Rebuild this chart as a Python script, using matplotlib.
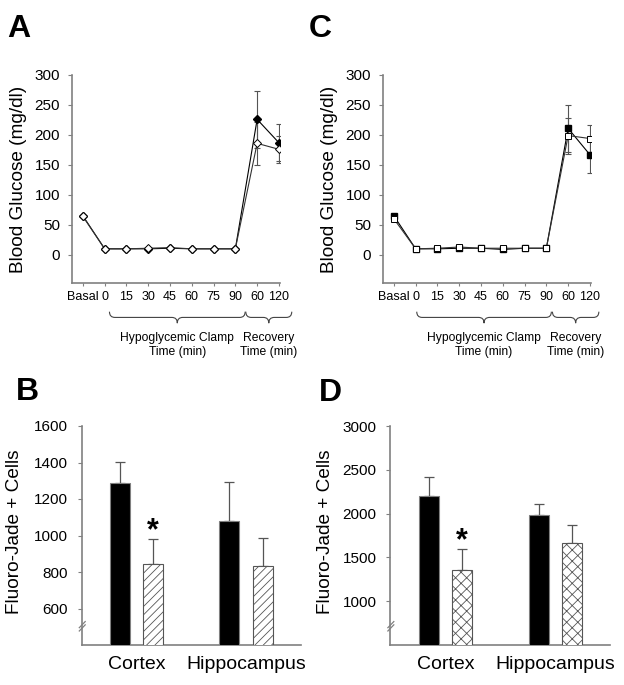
import numpy as np
import matplotlib
matplotlib.use("Agg")
import matplotlib.pyplot as plt
import matplotlib.transforms as mtransforms
from matplotlib.path import Path
from matplotlib.patches import PathPatch

plt.rcParams['font.family'] = 'Liberation Sans'
plt.rcParams['hatch.linewidth'] = 0.6

# blood glucose during clamp / recovery
time_labels = ["Basal", "0", "15", "30", "45", "60", "75", "90", "60", "120"]

a_filled = [65, 10, 10, 10, 11, 10, 10, 10, 226, 187]
a_open = [64, 10, 10, 11, 12, 10, 10, 10, 186, 176]
a_filled_err = [48, 31]   # only recovery points have visible SEM
a_open_err = [36, 23]

c_filled = [65, 10, 10, 11, 11, 9, 11, 11, 211, 167]
c_open = [60, 10, 11, 13, 11, 11, 11, 11, 199, 194]
c_filled_err = [39, 31]
c_open_err = [30, 23]

# fluoro-jade positive cells
regions = ["Cortex", "Hippocampus"]
b_ctrl = [1285, 1080]
b_ctrl_err = [119, 211]
b_trt = [844, 831]
b_trt_err = [136, 154]

d_ctrl = [2206, 1989]
d_ctrl_err = [213, 125]
d_trt = [1355, 1660]
d_trt_err = [236, 210]

W, H = 624, 685
GRAY = '#808080'


def rect(left, top, right, bottom):
    return [left / W, 1 - bottom / H, (right - left) / W, (bottom - top) / H]


def style_axes(ax):
    for s in ['top', 'right']:
        ax.spines[s].set_visible(False)
    for s in ['left', 'bottom']:
        ax.spines[s].set_color(GRAY)
        ax.spines[s].set_linewidth(1.2)


def brace(ax, x0, x1, ytop=-0.138, depth=0.055, q=0.25):
    y1 = ytop - depth / 2
    y2 = ytop - depth
    xm = (x0 + x1) / 2
    verts = [(x0, ytop), (x0, y1), (x0 + q, y1), (xm - q, y1), (xm, y1), (xm, y2),
             (xm, y1), (xm + q, y1), (x1 - q, y1), (x1, y1), (x1, ytop)]
    codes = [Path.MOVETO, Path.CURVE3, Path.CURVE3, Path.LINETO, Path.CURVE3, Path.CURVE3,
             Path.CURVE3, Path.CURVE3, Path.LINETO, Path.CURVE3, Path.CURVE3]
    trans = mtransforms.blended_transform_factory(ax.transData, ax.transAxes)
    ax.add_patch(PathPatch(Path(verts, codes), transform=trans, fill=False,
                           lw=0.8, edgecolor='#444444', clip_on=False))


def glucose_panel(ax, filled, opened, f_err, o_err, marker, ms, hypo, rec):
    x = np.arange(len(time_labels))
    ax.errorbar(x[8:], filled[8:], yerr=f_err, fmt='none', ecolor='#555555',
                elinewidth=0.8, capsize=2.5, capthick=0.8, zorder=2)
    ax.errorbar(x[8:], opened[8:], yerr=o_err, fmt='none', ecolor='#555555',
                elinewidth=0.8, capsize=2.5, capthick=0.8, zorder=2)
    ax.plot(x, filled, color='black', lw=0.8, marker=marker, ms=ms,
            mfc='black', mec='black', zorder=3)
    ax.plot(x, opened, color='#333333', lw=0.8, marker=marker, ms=ms,
            mfc='white', mec='black', mew=0.7, zorder=4)
    style_axes(ax)
    ax.set_xlim(-0.5, 9.05)
    ax.set_ylim(-47, 300)
    ax.set_yticks(range(0, 301, 50))
    ax.set_xticks(x)
    ax.set_xticklabels(time_labels)
    ax.tick_params(axis='x', length=2.2, pad=3.5, labelsize=9, color=GRAY)
    ax.tick_params(axis='y', length=3, pad=5.5, labelsize=11, color=GRAY)

    brace(ax, hypo[0], hypo[1])
    brace(ax, rec[0], rec[1])
    trans = mtransforms.blended_transform_factory(ax.transData, ax.transAxes)
    for xc, txt in [((hypo[0] + hypo[1]) / 2, "Hypoglycemic Clamp"),
                    ((rec[0] + rec[1]) / 2, "Recovery")]:
        ax.text(xc, -0.264, txt, transform=trans, ha='center', va='center', fontsize=8.7)
        ax.text(xc, -0.33, "Time (min)", transform=trans, ha='center', va='center', fontsize=8.7)


def cells_panel(ax, ctrl, ctrl_err, trt, trt_err, hatch, ylim, ticks, star_y):
    x = np.arange(len(regions))
    w, off = 0.183, 0.152
    ax.errorbar(x - off, ctrl, yerr=[np.zeros(len(x)), ctrl_err], fmt='none',
                ecolor='#555555', elinewidth=0.9, capsize=3.5, capthick=0.9, zorder=2)
    ax.errorbar(x + off, trt, yerr=[np.zeros(len(x)), trt_err], fmt='none',
                ecolor='#555555', elinewidth=0.9, capsize=3.5, capthick=0.9, zorder=2)
    ax.bar(x - off, ctrl, w, color='black', edgecolor=GRAY, lw=0.8, zorder=3)
    ax.bar(x + off, trt, w, color='white', edgecolor='#555555', hatch=hatch, lw=0.8, zorder=3)
    ax.annotate('*', xy=(x[0] + off, star_y), xytext=(0, -12.5), textcoords='offset points',
                ha='center', va='baseline', fontsize=22, fontweight='bold')
    style_axes(ax)
    ax.set_xlim(-0.5, 1.5)
    ax.set_ylim(*ylim)
    ax.set_yticks(ticks)
    ax.set_xticks(x)
    ax.set_xticklabels(regions)
    ax.tick_params(axis='x', length=0, pad=8, labelsize=14)
    ax.tick_params(axis='y', length=3, pad=7, labelsize=11, color=GRAY)
    # axis break marks
    for yc in (0.093, 0.078):
        ax.plot([-0.011, 0.016], [yc - 0.014, yc + 0.014], transform=ax.transAxes,
                color=GRAY, lw=0.9, clip_on=False)


fig = plt.figure(figsize=(W / 100, H / 100), dpi=100)

ax_a = fig.add_axes(rect(72, 75, 280, 283))
glucose_panel(ax_a, a_filled, a_open, a_filled_err, a_open_err, 'D', 3.7,
              (1.22, 7.45), (7.48, 9.59))

ax_c = fig.add_axes(rect(383, 75, 591, 283))
glucose_panel(ax_c, c_filled, c_open, c_filled_err, c_open_err, 's', 4.2,
              (1.05, 7.23), (7.28, 9.41))

ax_b = fig.add_axes(rect(81.7, 426, 300.7, 645))
cells_panel(ax_b, b_ctrl, b_ctrl_err, b_trt, b_trt_err, '////',
            (400, 1600), range(600, 1601, 200), 1075)

ax_d = fig.add_axes(rect(390.3, 426, 610.3, 645))
cells_panel(ax_d, d_ctrl, d_ctrl_err, d_trt, d_trt_err, 'xxx',
            (500, 3000), range(1000, 3001, 500), 1793)

# panel letters and y labels
for x, y, s in [(7, 36.7, 'A'), (309, 37, 'C'), (16, 400, 'B'), (319, 401, 'D')]:
    fig.text(x / W, 1 - y / H, s, fontsize=23, fontweight='bold', va='baseline')
for x, y, s in [(18.3, 179, 'Blood Glucose (mg/dl)'), (330, 179, 'Blood Glucose (mg/dl)'),
                (15, 532, 'Fluoro-Jade + Cells'), (325, 532, 'Fluoro-Jade + Cells')]:
    fig.text(x / W, 1 - y / H, s, rotation=90, ha='center', va='center', fontsize=13.7)

fig.savefig("out.png", dpi=100)
